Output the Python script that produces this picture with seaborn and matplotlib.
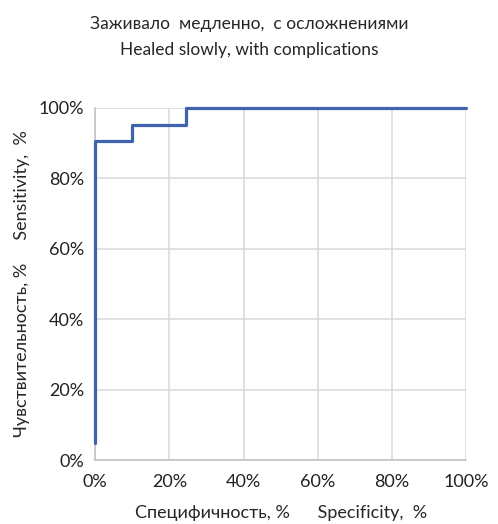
import pandas as pd
import matplotlib.pyplot as plt
import seaborn as sns
from matplotlib.ticker import PercentFormatter

# данные ROC-кривой (в процентах)
specificity = [0, 0, 10, 24.5, 100]
sensitivity = [4.8, 90.5, 95.2, 100, 100]
ticks = [0, 20, 40, 60, 80, 100]

sns.set_style('white')
plt.rcParams['font.family'] = ['Lato', 'DejaVu Sans']

df = pd.DataFrame({'spec': specificity, 'sens': sensitivity})

fig = plt.figure(figsize=(4.98, 5.24), dpi=100)
ax = fig.add_axes([0.191, 0.122, 0.745, 0.672])

sns.lineplot(data=df, x='spec', y='sens', estimator=None, sort=False,
             drawstyle='steps-post', color='#3F64AE', linewidth=2.3, ax=ax,
             zorder=3, clip_on=False)

ax.set_xlim(0, 100)
ax.set_ylim(0, 100)
ax.set_xticks(ticks)
ax.set_yticks(ticks)
ax.xaxis.set_major_formatter(PercentFormatter(decimals=0))
ax.yaxis.set_major_formatter(PercentFormatter(decimals=0))
ax.tick_params(axis='x', length=0, labelsize=13, colors='#222222', pad=10)
ax.tick_params(axis='y', length=0, labelsize=13, colors='#222222', pad=8)
ax.grid(True, color='#D9D9D9', linewidth=1.1)
for side in ['top', 'right']:
    ax.spines[side].set_visible(False)
for side in ['left', 'bottom']:
    ax.spines[side].set_color('#BFBFBF')
    ax.spines[side].set_linewidth(1.1)

ax.set_xlabel('Специфичность, %      Specificity,  %', fontsize=13, labelpad=11)
ax.set_ylabel('Чувствительность, %     Sensitivity,  %', fontsize=13, labelpad=6)

fig.text(0.5, 0.955, 'Заживало  медленно,  с осложнениями', ha='center', va='center', fontsize=12.5)
fig.text(0.5, 0.905, 'Healed slowly, with complications', ha='center', va='center', fontsize=12.5)

plt.savefig('out.png', dpi=100)
